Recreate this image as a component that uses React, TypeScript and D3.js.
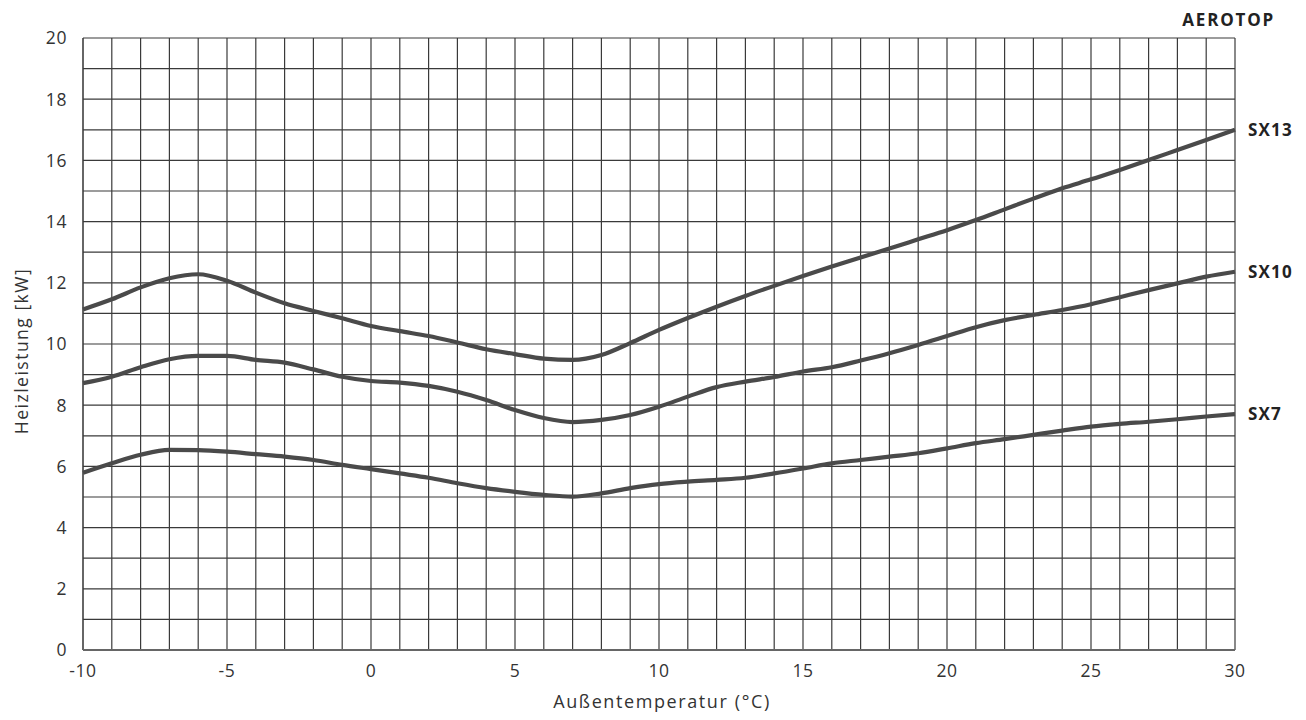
import React from "react";
import * as d3 from "d3";

const temps = [-10,-9,-8,-7,-6,-5,-4,-3,-2,-1,0,1,2,3,4,5,6,7,8,9,10,11,12,13,14,15,16,17,18,19,20,21,22,23,24,25,26,27,28,29,30];
const sx13 = [11.13,11.46,11.85,12.15,12.28,12.07,11.68,11.33,11.08,10.84,10.59,10.42,10.26,10.05,9.83,9.67,9.52,9.48,9.64,10.03,10.46,10.85,11.22,11.57,11.9,12.22,12.53,12.83,13.12,13.42,13.72,14.05,14.4,14.75,15.09,15.38,15.69,16.01,16.34,16.67,17.0];
const sx10 = [8.72,8.93,9.24,9.5,9.61,9.61,9.48,9.39,9.17,8.93,8.79,8.74,8.63,8.44,8.17,7.84,7.58,7.45,7.52,7.68,7.95,8.28,8.59,8.77,8.92,9.1,9.24,9.46,9.7,9.97,10.26,10.55,10.78,10.95,11.11,11.3,11.53,11.76,11.98,12.2,12.36];
const sx7 = [5.79,6.1,6.38,6.54,6.53,6.48,6.4,6.32,6.21,6.05,5.91,5.77,5.63,5.45,5.29,5.17,5.07,5.01,5.12,5.29,5.42,5.5,5.56,5.63,5.77,5.93,6.1,6.21,6.32,6.43,6.59,6.76,6.89,7.03,7.17,7.3,7.39,7.46,7.54,7.63,7.71];
const seriesNames = ["SX13", "SX10", "SX7"];
const xTicks = [-10, -5, 0, 5, 10, 15, 20, 25, 30];
const yTicks = [0, 2, 4, 6, 8, 10, 12, 14, 16, 18, 20];
const title = "AEROTOP";
const xTitle = "Außentemperatur (°C)";
const yTitle = "Heizleistung [kW]";

const W = 1306, H = 720;
const left = 83, right = 1235, top = 38, bottom = 650;
const FONT = "'Open Sans', 'Noto Sans', sans-serif";

export default function App() {
  const x = d3.scaleLinear().domain([-10, 30]).range([left, right]);
  const y = d3.scaleLinear().domain([0, 20]).range([bottom, top]);
  const line = d3.line<number>()
    .x((_, i) => x(temps[i]))
    .y((d) => y(d))
    .curve(d3.curveMonotoneX);
  const all = [sx13, sx10, sx7];
  const vGrid = d3.range(-10, 31, 1);
  const hGrid = d3.range(0, 21, 1);
  return (
    <svg width={W} height={H} style={{ position: "absolute", left: 0, top: 0, background: "#fff" }}>
      <g>
        {vGrid.map((v) => (
          <line key={"v" + v} x1={x(v)} x2={x(v)} y1={top} y2={bottom}
            stroke={v === -10 ? "#666" : "#3a3a3a"} strokeWidth={v === -10 ? 2 : 1.2} />
        ))}
        {hGrid.map((v) => (
          <line key={"h" + v} x1={left} x2={right} y1={y(v)} y2={y(v)}
            stroke={v === 0 ? "#666" : "#3a3a3a"} strokeWidth={v === 0 ? 2 : 1.2} />
        ))}
      </g>
      {all.map((s, i) => (
        <path key={i} d={line(s) || ""} fill="none" stroke="#4a4a4a" strokeWidth={4.2} strokeLinecap="butt" />
      ))}
      {all.map((s, i) => (
        <text key={"l" + i} x={1248} y={y(s[s.length - 1])} dy="0.36em" fontFamily={FONT}
          fontWeight={700} fontSize={17} letterSpacing={1.2} fill="#222">{seriesNames[i]}</text>
      ))}
      {yTicks.map((t) => (
        <text key={"yt" + t} x={67} y={y(t)} dy="0.36em" textAnchor="end" fontFamily={FONT}
          fontSize={17.5} letterSpacing={0.6} fill="#333">{t}</text>
      ))}
      {xTicks.map((t) => (
        <text key={"xt" + t} x={x(t)} y={677} textAnchor="middle" fontFamily={FONT}
          fontSize={17.5} letterSpacing={0.6} fill="#333">{t}</text>
      ))}
      <text x={662} y={708} textAnchor="middle" fontFamily={FONT} fontSize={18} letterSpacing={1.6} fill="#333">{xTitle}</text>
      <text transform={`translate(28, 351) rotate(-90)`} textAnchor="middle"
        fontFamily={FONT} fontSize={17.5} letterSpacing={1.5} fill="#333">{yTitle}</text>
      <text x={1275} y={26} textAnchor="end" fontFamily={FONT} fontWeight={700} fontSize={17} letterSpacing={1.8} fill="#222">{title}</text>
    </svg>
  );
}
